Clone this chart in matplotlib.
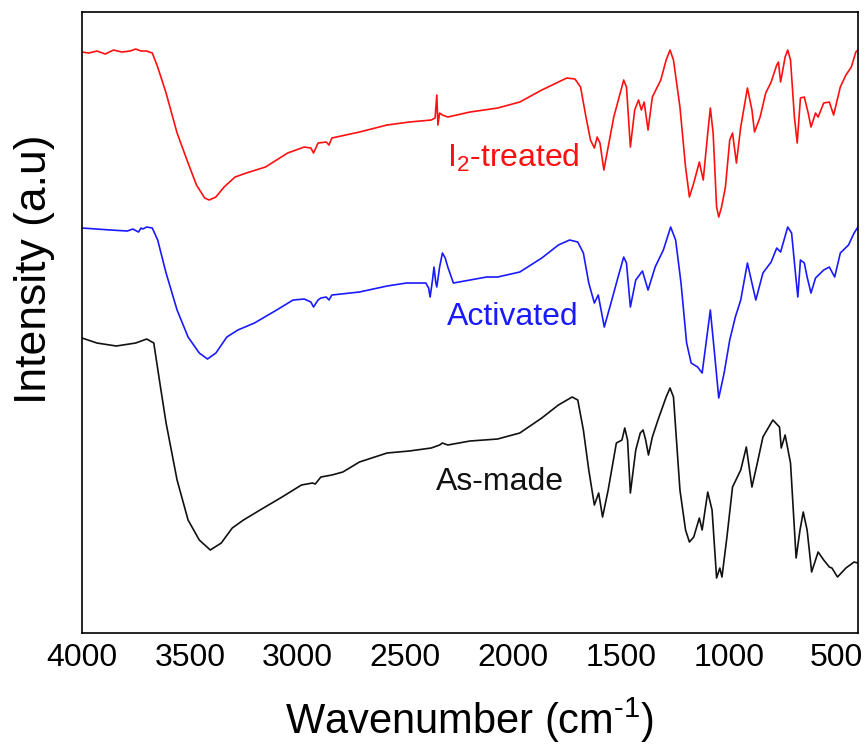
import numpy as np
import matplotlib.pyplot as plt

plt.rcParams['font.family'] = ['Liberation Sans', 'DejaVu Sans']
plt.rcParams['mathtext.fontset'] = 'custom'
plt.rcParams['mathtext.rm'] = 'Liberation Sans'
plt.rcParams['mathtext.it'] = 'Liberation Sans:italic'

# FTIR spectra (intensity in arbitrary units)
wn_i2 = [4000, 3969, 3931, 3892, 3854, 3815, 3777, 3751, 3726, 3700, 3674, 3649, 3610, 3559, 3508,
         3469, 3431, 3410, 3379, 3341, 3290, 3238, 3149, 3046, 2969, 2938, 2926, 2905, 2867,
         2854, 2841, 2713, 2585, 2482, 2380, 2362, 2354, 2349, 2341, 2328, 2303, 2200, 2072,
         1969, 1867, 1790, 1751, 1713, 1687, 1662, 1641, 1623, 1610, 1597, 1579, 1559, 1533,
         1508, 1487, 1474, 1456, 1436, 1418, 1405, 1392, 1374, 1354, 1315, 1290, 1272, 1256,
         1226, 1200, 1182, 1162, 1136, 1118, 1097, 1085, 1072, 1056, 1046, 1033, 1015, 995,
         982, 964, 944, 913, 892, 880, 854, 828, 803, 777, 769, 759, 738, 726, 713, 695, 682,
         667, 649, 631, 618, 597, 585, 559, 533, 513, 482, 456, 431, 410, 400]
i2 = [581, 580, 582, 579, 583, 581, 582, 584, 582, 582, 580, 566, 540, 500, 470,
      448, 435, 433, 436, 446, 456, 460, 466, 480, 486, 485, 480, 490, 491,
      488, 495, 501, 508, 511, 513, 515, 538, 508, 520, 518, 516, 521, 525,
      531, 543, 551, 555, 554, 546, 516, 493, 485, 496, 490, 463, 486, 516,
      536, 553, 546, 486, 523, 533, 523, 531, 503, 536, 553, 573, 583, 573,
      526, 466, 436, 450, 471, 453, 500, 525, 500, 426, 416, 426, 446, 493,
      500, 470, 506, 545, 523, 501, 516, 540, 551, 568, 571, 551, 576, 583, 573, 516, 490,
      535, 536, 520, 506, 520, 516, 530, 531, 518, 546, 558, 566, 581, 583]

wn_act = [4000, 3867, 3790, 3764, 3738, 3726, 3718, 3700, 3674, 3649, 3610, 3559, 3508, 3456,
          3418, 3379, 3328, 3277, 3200, 3097, 3021, 2969, 2938, 2926, 2905, 2892, 2867, 2854,
          2841, 2713, 2585, 2495, 2405, 2392, 2385, 2374, 2367, 2359, 2354, 2341, 2328, 2315,
          2303, 2277, 2200, 2123, 2072, 1969, 1867, 1790, 1738, 1700, 1674, 1649, 1623, 1605,
          1577, 1546, 1513, 1487, 1474, 1456, 1431, 1400, 1374, 1341, 1303, 1269, 1246, 1221,
          1195, 1174, 1144, 1123, 1103, 1085, 1067, 1046, 1021, 995, 969, 944, 913, 892, 874,
          841, 803, 777, 759, 726, 708, 687, 679, 667, 649, 636, 618, 597, 559, 533, 508, 482,
          444, 418, 400]
act = [405, 403, 402, 404, 401, 405, 404, 406, 405, 393, 360, 323, 296, 280,
       274, 280, 296, 303, 310, 323, 333, 334, 331, 326, 333, 335, 336, 333,
       338, 341, 347, 350, 350, 345, 336, 353, 366, 351, 346, 366, 380, 375,
       366, 350, 353, 356, 356, 361, 375, 388, 393, 391, 380, 350, 330, 338,
       306, 330, 356, 376, 370, 326, 353, 362, 343, 366, 383, 406, 393, 350,
       290, 270, 266, 260, 293, 323, 283, 235, 260, 293, 316, 333, 370, 350, 333,
       360, 371, 385, 381, 406, 400, 353, 336, 373, 370, 356, 340, 355, 363, 366, 356, 380,
       388, 400, 406]

wn_as = [4000, 3931, 3841, 3751, 3700, 3667, 3641, 3610, 3559, 3508, 3456, 3405, 3354, 3303,
         3251, 3174, 3072, 2982, 2931, 2918, 2892, 2841, 2790, 2713, 2585, 2482, 2380, 2341,
         2328, 2303, 2200, 2072, 1969, 1867, 1790, 1726, 1700, 1674, 1649, 1623, 1603, 1585,
         1559, 1521, 1495, 1482, 1469, 1456, 1431, 1410, 1397, 1385, 1372, 1354, 1328, 1290,
         1272, 1256, 1226, 1200, 1182, 1162, 1136, 1123, 1097, 1077, 1056, 1041, 1031, 1008,
         982, 944, 918, 892, 867, 841, 795, 764, 756, 738, 713, 687, 669, 654, 636, 615, 585,
         559, 533, 521, 495, 456, 418, 400]
as_made = [295, 290, 287, 290, 294, 290, 253, 210, 153, 113, 93, 83, 90, 105,
           113, 123, 136, 148, 150, 149, 156, 158, 161, 171, 180, 182, 185, 188,
           190, 188, 192, 194, 200, 215, 228, 236, 233, 203, 163, 128, 140, 116,
           143, 190, 193, 205, 193, 140, 183, 200, 203, 193, 178, 196, 213, 236,
           245, 236, 143, 103, 91, 96, 115, 103, 141, 123, 55, 65, 56, 96,
           146, 163, 186, 146, 170, 196, 213, 206, 185, 198, 170, 75, 103, 121, 103, 61, 81,
           73, 66, 65, 56, 65, 71, 70]

fig = plt.figure(figsize=(8.67, 7.47), dpi=100)
ax = fig.add_axes([0.0946, 0.1526, 0.895, 0.8313])

ax.plot(wn_i2, i2, color='#ff1010', lw=1.2)
ax.plot(wn_act, act, color='#1a1aff', lw=1.2)
ax.plot(wn_as, as_made, color='#111111', lw=1.2)

ax.text(2000, 466, r'I$_2$-treated', color='#ff1010', fontsize=23, ha='center', va='baseline')
ax.text(2000, 308, 'Activated', color='#1a1aff', fontsize=23, ha='center', va='baseline')
ax.text(2061, 143, 'As-made', color='#111111', fontsize=23, ha='center', va='baseline')

ax.set_xlim(4000, 400)
ax.set_ylim(0, 621)
ax.set_xticks([4000, 3500, 3000, 2500, 2000, 1500, 1000, 500])
ax.set_yticks([])
ax.tick_params(axis='x', length=0, pad=7, labelsize=23)
for s in ax.spines.values():
    s.set_linewidth(1.2)

ax.set_xlabel(r'Wavenumber (cm$^{\text{-1}}$)', fontsize=30, va='bottom')
ax.xaxis.set_label_coords(0.5, -0.18)
ax.set_ylabel('Intensity (a.u)', fontsize=32)
ax.yaxis.set_label_coords(-0.035, 0.585)

plt.savefig('out.png', dpi=100)
